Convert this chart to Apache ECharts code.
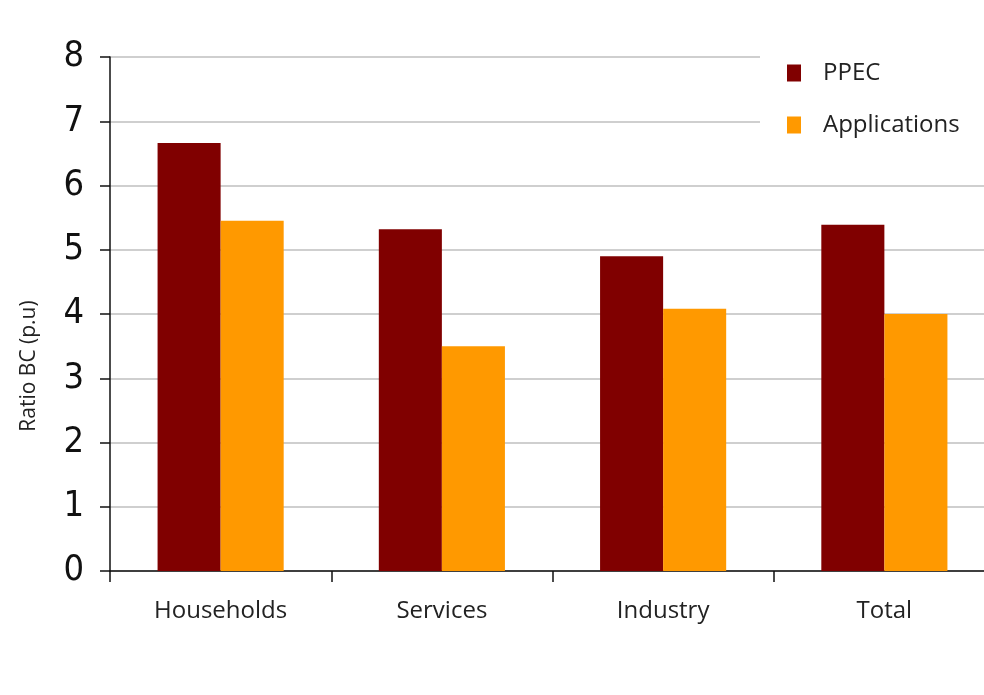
<!DOCTYPE html>
<html>
<head>
<meta charset="utf-8">
<script src="https://cdn.jsdelivr.net/npm/echarts@6/dist/echarts.min.js"></script>
<style>
  html, body { margin: 0; padding: 0; background: #fff; overflow: hidden; }
  .main { width: 995px; height: 695px; }
</style>
</head>
<body>
<div class="main"></div>
<script>
// data
var categories = ['Households', 'Services', 'Industry', 'Total'];
var ppec = [6.66, 5.32, 4.90, 5.39];
var applications = [5.45, 3.50, 4.08, 4.00];
var yTicks = [0, 1, 2, 3, 4, 5, 6, 7, 8];

var myChart = echarts.init(document.querySelector('.main'));
myChart.setOption({
  animation: false,
  grid: {
    left: 110,
    right: 0,
    top: 57,
    bottom: 124
  },
  legend: {
    orient: 'vertical',
    left: 760,
    top: 49,
    padding: [12, 100, 12, 27],
    backgroundColor: '#fff',
    itemWidth: 14,
    itemHeight: 17,
    itemGap: 28,
    icon: 'rect',
    textStyle: {
      fontFamily: 'Open Sans',
      fontSize: 24,
      color: '#222',
      padding: [0, 0, 0, 17]
    },
    data: ['PPEC', 'Applications']
  },
  xAxis: {
    type: 'category',
    data: categories,
    axisLine: { lineStyle: { color: '#111', width: 1.5 } },
    axisTick: { show: true, length: 11, lineStyle: { color: '#111', width: 1.5 } },
    axisLabel: {
      margin: 28,
      fontFamily: 'Open Sans',
      fontSize: 24,
      color: '#222'
    }
  },
  yAxis: {
    type: 'value',
    min: yTicks[0],
    max: yTicks[yTicks.length - 1],
    interval: 1,
    name: 'Ratio BC (p.u)',
    nameLocation: 'middle',
    nameGap: 70,
    nameTextStyle: {
      fontFamily: 'Open Sans',
      fontSize: 21,
      color: '#222',
      padding: [0, 104, 0, 0]
    },
    axisLine: { show: true, lineStyle: { color: '#111', width: 1.5 } },
    axisTick: { show: true, length: 10, lineStyle: { color: '#111', width: 1.5 } },
    axisLabel: {
      margin: 26,
      fontFamily: '"Liberation Sans Narrow", "Arial Narrow", "DejaVu Sans Condensed", sans-serif',
      fontSize: 36,
      color: '#111'
    },
    splitLine: { lineStyle: { color: '#cfcfcf', width: 2 } }
  },
  series: [
    {
      name: 'PPEC',
      type: 'bar',
      data: ppec,
      barGap: '0%',
      barCategoryGap: '43%',
      itemStyle: { color: '#800000' }
    },
    {
      name: 'Applications',
      type: 'bar',
      data: applications,
      itemStyle: { color: '#ff9900' }
    }
  ]
});
</script>
</body>
</html>
